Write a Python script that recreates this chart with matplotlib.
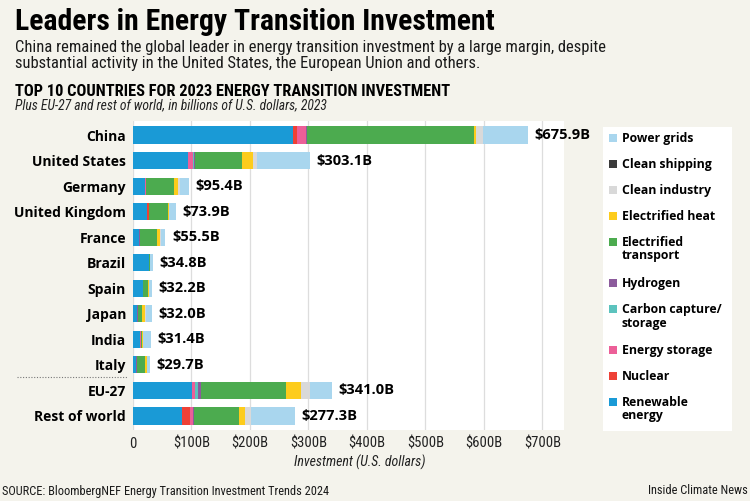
import matplotlib
matplotlib.use("Agg")
import matplotlib.pyplot as plt
from matplotlib import font_manager
from matplotlib.patches import Rectangle
import numpy as np

# the graphic uses a condensed face for headings and ticks; take one if installed
installed = {f.name for f in font_manager.fontManager.ttflist}
cond_name = next((n for n in ["Liberation Sans Narrow", "Roboto Condensed", "Open Sans Condensed",
                              "Noto Sans Condensed", "DejaVu Sans Condensed"] if n in installed), "Roboto")
COND = [cond_name, "DejaVu Sans"]
BOLD = ["Open Sans", "DejaVu Sans"]

countries = ["China", "United States", "Germany", "United Kingdom", "France", "Brazil",
             "Spain", "Japan", "India", "Italy", "EU-27", "Rest of world"]
total_labels = ["$675.9B", "$303.1B", "$95.4B", "$73.9B", "$55.5B", "$34.8B",
                "$32.2B", "$32.0B", "$31.4B", "$29.7B", "$341.0B", "$277.3B"]

# billions of USD
renewable = [272.8, 93.3, 20.5, 23.3, 10.8, 27.0, 17.6, 6.0, 12.0, 5.6, 101.0, 83.0]
nuclear = [7.5, 1.0, 0, 4.0, 0, 0, 0, 0, 0, 0, 0, 15.0]
energy_storage = [15.6, 9.0, 1.0, 0, 0, 0, 0, 0.5, 1.0, 0, 4.5, 4.0]
carbon_capture = [0.5, 1.0, 0, 0, 0, 0, 0, 0, 0, 0, 5.5, 0.5]
hydrogen = [0.8, 1.5, 0.5, 0, 1.0, 0, 0, 1.5, 1.0, 1.5, 5.0, 2.5]
transport = [286.0, 80.0, 48.0, 33.0, 28.5, 2.0, 8.4, 7.2, 2.0, 12.7, 146.0, 76.0]
heat = [3.0, 19.0, 7.0, 1.0, 6.0, 0.5, 1.0, 4.6, 0.5, 3.4, 25.0, 11.0]
clean_industry = [12.0, 8.0, 3.0, 1.0, 1.0, 0, 0.2, 2.0, 0.5, 0.5, 16.0, 10.0]
clean_shipping = [0.3, 0, 0, 0, 0, 0, 0, 0, 0, 0, 0, 0]
power_grids = [77.4, 90.3, 15.4, 11.6, 8.2, 5.3, 5.0, 10.2, 14.4, 6.0, 38.0, 75.3]

sectors = ["Renewable\nenergy", "Nuclear", "Energy storage", "Carbon capture/\nstorage", "Hydrogen",
           "Electrified\ntransport", "Electrified heat", "Clean industry", "Clean shipping", "Power grids"]
series = [renewable, nuclear, energy_storage, carbon_capture, hydrogen,
          transport, heat, clean_industry, clean_shipping, power_grids]
colors = ["#1a9ad6", "#ee4136", "#ec5f98", "#5cc3be", "#8c5b9c",
          "#4cab4f", "#fdcc1c", "#d9d9d9", "#3b3b3b", "#a9d6ee"]

BG = "#f4f3ec"
fig = plt.figure(figsize=(7.5, 5.01), dpi=100, facecolor=BG)

W, H = 750, 501
ax = fig.add_axes([133 / W, 1 - 430 / H, (564 - 133) / W, 309 / H])
ax.set_facecolor("white")

y = np.arange(len(countries))
left = np.zeros(len(countries))
for vals, c in zip(series, colors):
    vals = np.array(vals, dtype=float)
    ax.barh(y, vals, left=left, height=0.67, color=c, linewidth=0, zorder=3)
    left += vals

for yi, tot, lab in zip(y, left, total_labels):
    ax.text(tot + 11, yi, lab, va="center", ha="left", fontsize=10.5,
            fontweight="bold", family=BOLD, zorder=4)

ax.set_xlim(0, 737)
ax.set_ylim(len(countries) - 0.45, -0.55)
ax.set_xticks(np.arange(0, 701, 100))
ax.set_xticklabels(["0"] + [f"${v}B" for v in range(100, 701, 100)],
                   family=COND, fontsize=10.5, color="#222222")
ax.set_yticks(y)
ax.set_yticklabels(countries, fontweight="bold", family=BOLD, fontsize=10)
ax.tick_params(length=0)
ax.tick_params(axis="y", pad=5)
ax.tick_params(axis="x", pad=5)
ax.grid(axis="x", color="#dddddd", linewidth=0.9, zorder=0)
for s in ax.spines.values():
    s.set_visible(False)
ax.set_xlabel("Investment (U.S. dollars)", family=COND, style="italic",
              fontsize=10, color="#222222", labelpad=3, x=(360 - 133) / (564 - 133))

# dotted separator between countries and aggregates
fig.add_artist(plt.Line2D([17 / W, 128 / W], [1 - 377 / H, 1 - 377 / H],
                          color="#777777", linestyle=(0, (1, 1.5)), linewidth=0.8))

# titles
fig.text(15 / W, 1 - 22 / H, "Leaders in Energy Transition Investment", family=COND,
         fontweight="bold", fontsize=21.3, va="center", ha="left")
fig.text(15 / W, 1 - 55.5 / H,
         "China remained the global leader in energy transition investment by a large margin, despite\n"
         "substantial activity in the United States, the European Union and others.",
         family=COND, fontsize=11.9, va="center", ha="left", linespacing=1.1, color="#1a1a1a")
fig.text(15 / W, 1 - 92 / H, "TOP 10 COUNTRIES FOR 2023 ENERGY TRANSITION INVESTMENT",
         family=COND, fontweight="bold", fontsize=11.8, va="center", ha="left")
fig.text(15 / W, 1 - 105 / H, "Plus EU-27 and rest of world, in billions of U.S. dollars, 2023",
         family=COND, style="italic", fontsize=9.8, va="center", ha="left", color="#222222")

fig.text(2 / W, 1 - 491 / H, "SOURCE: BloombergNEF Energy Transition Investment Trends 2024",
         family=COND, fontsize=8.9, va="center", ha="left", color="#1a1a1a")
fig.text(748 / W, 1 - 491 / H, "Inside Climate News", family=COND, fontsize=8.9,
         va="center", ha="right", color="#1a1a1a")

# legend panel
fig.add_artist(Rectangle((603 / W, 1 - 431 / H), (732 - 603) / W, (431 - 127) / H,
                         transform=fig.transFigure, facecolor="white", edgecolor="none"))
ly = 138
for name, c in reversed(list(zip(sectors, colors))):
    fig.add_artist(Rectangle((609 / W, 1 - (ly + 4) / H), 8 / W, 8 / H,
                             transform=fig.transFigure, facecolor=c, edgecolor="none"))
    fig.text(622 / W, 1 - (ly - 6) / H, name, family=BOLD, fontweight="bold", fontsize=8.8,
             va="top", ha="left", linespacing=1.05)
    ly += 26 + 15 * name.count("\n")

fig.savefig("out.png", dpi=100, facecolor=BG)
